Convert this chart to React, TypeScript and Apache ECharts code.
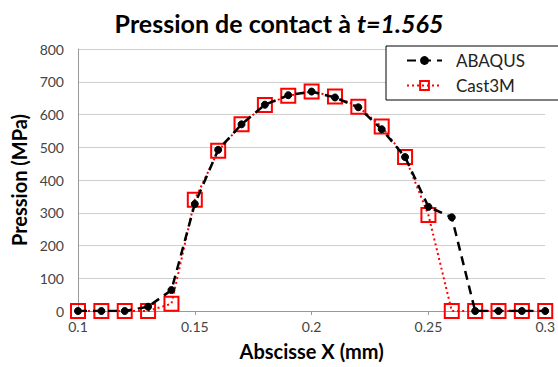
import React, { useEffect, useRef } from "react";
import * as echarts from "echarts";

const xValues = [0.1, 0.11, 0.12, 0.13, 0.14, 0.15, 0.16, 0.17, 0.18, 0.19, 0.2, 0.21, 0.22, 0.23, 0.24, 0.25, 0.26, 0.27, 0.28, 0.29, 0.3];
const abaqus = [0, 0, 0, 13, 64, 327, 492, 570, 630, 659, 670, 652, 622, 555, 470, 318, 286, 0, 0, 0, 0];
const cast3m = [0, 0, 0, 0, 22, 340, 489, 570, 629, 657, 670, 655, 624, 563, 470, 293, 0, 0, 0, 0, 0];

const FONT = "Lato, 'Open Sans', sans-serif";

export default function App() {
  const ref = useRef<HTMLDivElement>(null);
  useEffect(() => {
    const chart = echarts.init(ref.current!, null, { renderer: "svg" });
    chart.setOption({
      animation: false,
      backgroundColor: "#fff",
      title: {
        text: "{n|Pression de contact à }{i|t=1.565}",
        left: "center",
        top: 5,
        textStyle: {
          rich: {
            n: { fontFamily: FONT, fontSize: 25, fontWeight: "bold", color: "#000" },
            i: { fontFamily: FONT, fontSize: 25, fontWeight: "bold", fontStyle: "italic", color: "#000" },
          },
        },
      },
      legend: {
        orient: "vertical",
        left: 386,
        top: 46,
        padding: [6, 38, 6, 20],
        itemGap: 8,
        itemWidth: 35,
        itemHeight: 11,
        borderColor: "#000",
        borderWidth: 1,
        backgroundColor: "#fff",
        textStyle: { fontFamily: FONT, fontSize: 17, color: "#222", padding: [0, 0, 0, 9] },
        data: ["ABAQUS", "Cast3M"],
      },
      grid: { left: 78, right: 7, top: 49, bottom: 56 },
      xAxis: {
        type: "value",
        min: 0.1,
        max: 0.3,
        interval: 0.05,
        name: "Abscisse X (mm)",
        nameLocation: "middle",
        nameGap: 30,
        nameTextStyle: { fontFamily: FONT, fontSize: 20, fontWeight: "bold", color: "#000" },
        axisLine: { lineStyle: { color: "#999" } },
        axisTick: { show: true, length: 4, lineStyle: { color: "#999" } },
        axisLabel: { fontFamily: FONT, fontSize: 14, color: "#444", margin: 8 },
        splitLine: { show: false },
      },
      yAxis: {
        type: "value",
        min: 0,
        max: 800,
        interval: 100,
        name: "Pression (MPa)",
        nameLocation: "middle",
        nameGap: 46,
        nameTextStyle: { fontFamily: FONT, fontSize: 20, fontWeight: "bold", color: "#000" },
        axisLine: { show: true, lineStyle: { color: "#999" } },
        axisTick: { show: false },
        axisLabel: { fontFamily: FONT, fontSize: 14, color: "#444", margin: 14 },
        splitLine: { lineStyle: { color: "#cfcfcf" } },
      },
      series: [
        {
          name: "Cast3M",
          type: "line",
          data: xValues.map((x, i) => [x, cast3m[i]]),
          symbol: "rect",
          symbolSize: 14,
          itemStyle: { color: "rgba(0,0,0,0)", borderColor: "#ff0000", borderWidth: 2 },
          lineStyle: { color: "#ff0000", width: 2, type: [2, 3] },
          z: 2,
        },
        {
          name: "ABAQUS",
          type: "line",
          data: xValues.map((x, i) => [x, abaqus[i]]),
          symbol: "circle",
          symbolSize: 7,
          itemStyle: { color: "#000", borderColor: "#000" },
          lineStyle: { color: "#000", width: 2.5, type: [9, 6] },
          z: 3,
        },
      ],
    });
    return () => chart.dispose();
  }, []);
  return <div ref={ref} style={{ width: 558, height: 367, position: "absolute", left: 0, top: 0 }} />;
}
